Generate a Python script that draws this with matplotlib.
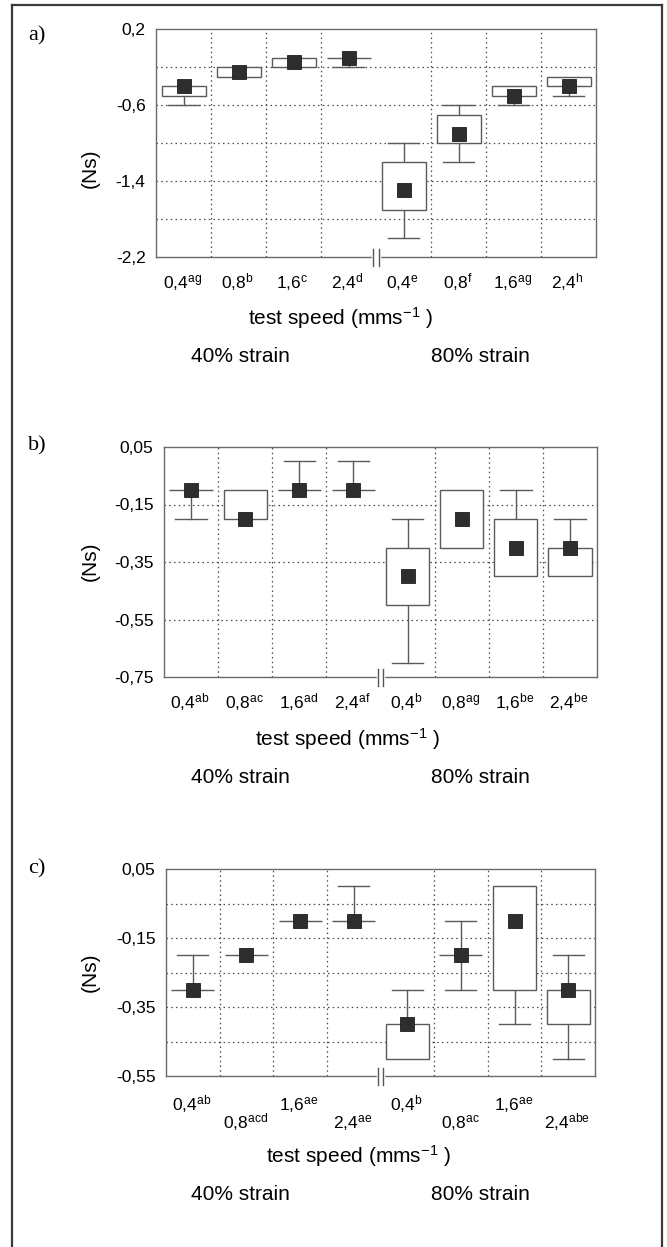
import matplotlib
matplotlib.use("Agg")
import matplotlib.pyplot as plt
from matplotlib.patches import Rectangle
from matplotlib.lines import Line2D

plt.rcParams['font.family'] = ['Liberation Sans', 'DejaVu Sans']
plt.rcParams['mathtext.fontset'] = 'custom'
plt.rcParams['mathtext.rm'] = 'Liberation Sans'
plt.rcParams['mathtext.it'] = 'Liberation Sans:italic'
plt.rcParams['mathtext.default'] = 'regular'

W, H = 667, 1247

# test speeds (mm/s) for 40% strain, then 80% strain
speeds = ['0,4', '0,8', '1,6', '2,4', '0,4', '0,8', '1,6', '2,4']

# a) median, quartile box and range per group
a_sup = ['ag', 'b', 'c', 'd', 'e', 'f', 'ag', 'h']
a_med = [-0.4, -0.25, -0.15, -0.1, -1.5, -0.9, -0.5, -0.4]
a_q1 = [-0.5, -0.3, -0.2, -0.1, -1.7, -1.0, -0.5, -0.4]
a_q3 = [-0.4, -0.2, -0.1, -0.1, -1.2, -0.7, -0.4, -0.3]
a_min = [-0.6, -0.3, -0.2, -0.2, -2.0, -1.2, -0.6, -0.5]
a_max = [-0.4, -0.2, -0.1, -0.1, -1.0, -0.6, -0.4, -0.3]
a_ticks = [0.2, -0.6, -1.4, -2.2]
a_ticklabels = ['0,2', '-0,6', '-1,4', '-2,2']
a_grid = [-0.2, -0.6, -1.0, -1.4, -1.8]

# b)
b_sup = ['ab', 'ac', 'ad', 'af', 'b', 'ag', 'be', 'be']
b_med = [-0.1, -0.2, -0.1, -0.1, -0.4, -0.2, -0.3, -0.3]
b_q1 = [-0.1, -0.2, -0.1, -0.1, -0.5, -0.3, -0.4, -0.4]
b_q3 = [-0.1, -0.1, -0.1, -0.1, -0.3, -0.1, -0.2, -0.3]
b_min = [-0.2, -0.2, -0.1, -0.1, -0.7, -0.3, -0.4, -0.4]
b_max = [-0.1, -0.1, 0.0, 0.0, -0.2, -0.1, -0.1, -0.2]
b_ticks = [0.05, -0.15, -0.35, -0.55, -0.75]
b_ticklabels = ['0,05', '-0,15', '-0,35', '-0,55', '-0,75']
b_grid = [-0.15, -0.35, -0.55]

# c)
c_sup = ['ab', 'acd', 'ae', 'ae', 'b', 'ac', 'ae', 'abe']
c_med = [-0.3, -0.2, -0.1, -0.1, -0.4, -0.2, -0.1, -0.3]
c_q1 = [-0.3, -0.2, -0.1, -0.1, -0.5, -0.2, -0.3, -0.4]
c_q3 = [-0.3, -0.2, -0.1, -0.1, -0.4, -0.2, 0.0, -0.3]
c_min = [-0.3, -0.2, -0.1, -0.1, -0.5, -0.3, -0.4, -0.5]
c_max = [-0.2, -0.2, -0.1, 0.0, -0.3, -0.1, 0.0, -0.2]
c_ticks = [0.05, -0.15, -0.35, -0.55]
c_ticklabels = ['0,05', '-0,15', '-0,35', '-0,55']
c_grid = [-0.05, -0.15, -0.25, -0.35, -0.45]

strain_labels = ['40% strain', '80% strain']
y_label = '(Ns)'
x_label = 'test speed (mms$^{-1}$ )'

GRID_C = '#4a4a4a'
BOX_C = '#5a5a5a'
MARK_C = '#2e2e2e'
DOT = (0, (1.2, 2.6))


def fx(px):
    return px / W


def fy(py):
    return 1 - py / H


fig = plt.figure(figsize=(W / 100, H / 100), dpi=100)


def panel(rect, tag, sup, med, q1, q3, lo, hi, ticks, ticklabels, grid,
          stagger, lab_base, xlab_pos, strain_base, ns_pos, tag_pos):
    left, right, top, bottom = rect
    ax = fig.add_axes([fx(left), fy(bottom), fx(right - left), (bottom - top) / H])
    ymax, ymin = ticks[0], ticks[-1]
    ax.set_xlim(0, 8)
    ax.set_ylim(ymin, ymax)
    ax_w = right - left
    ax_h = bottom - top
    cat = ax_w / 8.0

    for s in ax.spines.values():
        s.set_color('#6a6a6a')
        s.set_linewidth(1.0)

    # dotted grid
    for gx in [1, 2, 3, 5, 6, 7]:
        ax.axvline(gx, color=GRID_C, lw=0.9, ls=DOT, zorder=1)
    for gy in grid:
        ax.axhline(gy, color=GRID_C, lw=0.9, ls=DOT, zorder=1)

    ax.set_xticks([])
    ax.set_yticks(ticks, ticklabels)
    ax.tick_params(axis='y', length=0, pad=7.5, labelsize=12.5)

    bw, cw = 0.8, 0.58
    for i in range(8):
        xc = i + 0.5
        ax.add_patch(Rectangle((xc - bw / 2, q1[i]), bw, q3[i] - q1[i],
                               facecolor='white', edgecolor=BOX_C, lw=1.0, zorder=3))
        if hi[i] > q3[i]:
            ax.plot([xc, xc], [q3[i], hi[i]], color=BOX_C, lw=1.0, zorder=2)
            ax.plot([xc - cw / 2, xc + cw / 2], [hi[i], hi[i]], color=BOX_C, lw=1.0, zorder=2)
        if lo[i] < q1[i]:
            ax.plot([xc, xc], [q1[i], lo[i]], color=BOX_C, lw=1.0, zorder=2)
            ax.plot([xc - cw / 2, xc + cw / 2], [lo[i], lo[i]], color=BOX_C, lw=1.0, zorder=2)
        off = lab_base
        if stagger and i % 2 == 1:
            off = lab_base + 18
        ax.annotate(speeds[i] + '$^{' + sup[i] + '}$', xy=(xc, 0),
                    xycoords=('data', 'axes fraction'), xytext=(-1, -off),
                    textcoords='offset pixels', ha='center', va='baseline',
                    fontsize=12.5, annotation_clip=False)

    ax.plot([x + 0.5 for x in range(8)], med, 's', ms=10, color=MARK_C,
            mec='#1e1e1e', mew=0.6, zorder=5)

    # axis break marks
    tr = ax.get_xaxis_transform()
    dx = 2.6 / cat
    hh = 8.5 / ax_h
    ax.plot([4 - dx, 4 + dx], [0, 0], transform=tr, color='white', lw=2.5,
            clip_on=False, zorder=6)
    for xb in (4 - dx, 4 + dx):
        ax.plot([xb, xb], [-hh, hh], transform=tr, color='#555555', lw=1.0,
                clip_on=False, zorder=7)

    fig.text(fx(xlab_pos[0]), fy(bottom + xlab_pos[1]), x_label, ha='center',
             va='baseline', fontsize=15)
    fig.text(fx(240), fy(bottom + strain_base), strain_labels[0], ha='center',
             va='baseline', fontsize=15)
    fig.text(fx(480), fy(bottom + strain_base), strain_labels[1], ha='center',
             va='baseline', fontsize=15)
    fig.text(fx(ns_pos[0]), fy(ns_pos[1]), y_label, rotation=90, ha='center',
             va='center', fontsize=15)
    fig.text(fx(tag_pos[0]), fy(tag_pos[1]), tag, ha='left', va='center',
             fontsize=16, family=['Liberation Serif', 'DejaVu Serif'])
    return ax


panel((156, 596, 29, 257), 'a)', a_sup, a_med, a_q1, a_q3, a_min, a_max,
      a_ticks, a_ticklabels, a_grid, False, 31, (341, 68), 105, (90, 168), (28, 36))
panel((164, 597, 447, 677), 'b)', b_sup, b_med, b_q1, b_q3, b_min, b_max,
      b_ticks, b_ticklabels, b_grid, False, 31, (348, 69), 106, (90, 561), (28, 446))
panel((166, 595, 869, 1076), 'c)', c_sup, c_med, c_q1, c_q3, c_min, c_max,
      c_ticks, c_ticklabels, c_grid, True, 34, (359, 87), 124, (90, 972), (28, 869))

# page frame
fr = dict(color='#3a3a3a', lw=1.6, transform=fig.transFigure)
fig.add_artist(Line2D([fx(12), fx(12)], [fy(5), 0], **fr))
fig.add_artist(Line2D([fx(12), fx(662)], [fy(5), fy(5)], **fr))
fig.add_artist(Line2D([fx(662), fx(662)], [fy(5), 0], **fr))

fig.savefig('out.png', dpi=100)
